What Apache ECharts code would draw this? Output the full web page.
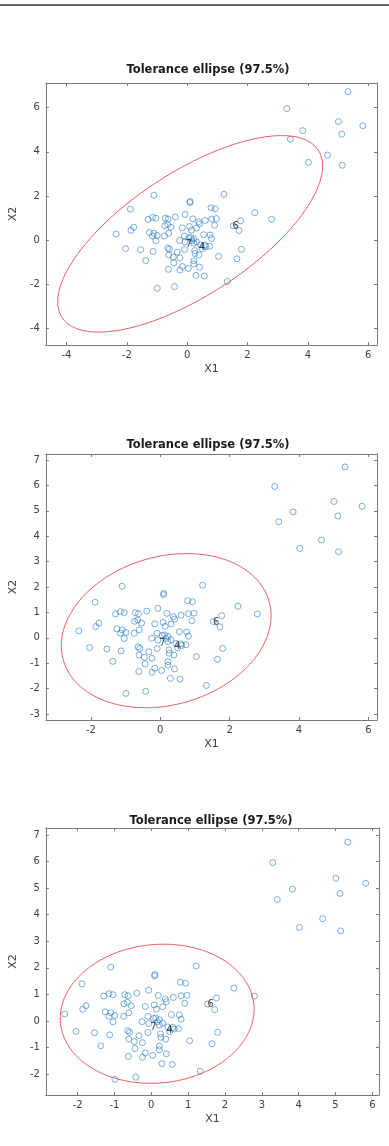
<!DOCTYPE html>
<html>
<head>
<meta charset="utf-8">
<script src="https://cdn.jsdelivr.net/npm/echarts@6/dist/echarts.min.js"></script>
<style>
  html, body { margin: 0; padding: 0; background: #fff; }
  #chart { width: 389px; height: 1146px; }
</style>
</head>
<body>
<div id="chart"></div>
<script>
// observations (X1, X2), same data in all three panels
const x1Values = [
  -2.35, -2.04, -1.88, -1.86, -1.77, -1.54, -1.37, -1.29, -1.25, -1.15,
  -1.13, -1.10, -1.15, -1.10, -1.04, -1.04, -0.99, -0.99, -0.75, -0.72,
  -0.74, -0.65, -0.63, -0.61, -0.64, -0.59, -0.61, -0.62, -0.54, -0.44,
  -0.39, -0.42, -0.46, -0.33, -0.25, -0.24, -0.24, -0.16, -0.16, -0.09,
  -0.07, -0.09, 0.04, 0.08, 0.10, 0.09, 0.06, -0.07, 0.14, 0.16,
  0.19, 0.22, 0.22, 0.22, 0.25, 0.26, 0.29, 0.31, 0.31, 0.22,
  0.38, 0.41, 0.41, 0.39, 0.45, 0.59, 0.55, 0.57, 0.60, 0.74,
  0.76, 0.79, 0.81, 0.81, 0.91, 0.93, 0.97, 1.04, 1.22, 1.53,
  1.65, 1.72, 1.77, 1.80, 1.33, 2.24, 2.80, 0.12, 0.62, 0.50,
  5.33, 3.30, 5.01, 5.82, 3.83, 5.12, 3.42, 4.65, 4.02, 5.14
];
const x2Values = [
  0.27, -0.39, 1.40, 0.44, 0.58, -0.44, -0.93, 0.94, 0.35, 1.03,
  -0.52, 2.03, 0.18, 0.31, 0.99, -0.03, 0.21, -2.19, 0.18, 0.99,
  0.65, 0.70, 0.95, 0.31, -0.36, -0.42, -0.68, -1.33, 0.58, -1.03,
  1.05, -2.11, -0.77, -0.55, -0.02, -0.81, -1.36, 0.55, -1.20, -0.43,
  1.16, 0.18, -1.29, 0.61, 1.75, 1.70, 0.10, -0.09, 0.45, -0.03,
  0.96, 0.05, -1.08, -0.94, -0.48, -0.61, -1.60, 0.54, -0.08, -0.15,
  0.83, 0.73, -1.23, -0.68, -0.22, -0.24, 0.24, -1.63, 0.89, -0.28,
  0.23, 1.46, 0.95, 0.07, 0.67, 1.42, 0.97, -0.74, 2.07, 0.64,
  -0.85, 0.43, 0.87, -0.42, -1.88, 1.24, 0.94, 0.11, -0.30, -0.40,
  6.73, 5.96, 5.37, 5.18, 4.96, 4.80, 4.57, 3.85, 3.52, 3.39
];

// labelled observations
const labelNames = ['7', '4', '6'];
const labelX1 = [0.06, 0.49, 1.61];
const labelX2 = [-0.22, -0.35, 0.62];

// tolerance ellipses: centre and covariance (s11, s12, s22) per panel
const chi2Quantile = 7.3778; // chi2(2) at 97.5%
const ellipseCenters = [[0.10, 0.28], [0.17, 0.28], [0.16, 0.275]];
const ellipseCov = [[2.61, 1.83, 2.69], [1.24, 0.244, 1.25], [0.938, 0.061, 0.927]];

// axis limits and ticks per panel
const xLimits = [[-4.68, 6.29], [-3.30, 6.25], [-2.86, 6.18]];
const yLimits = [[-4.76, 7.12], [-3.24, 7.24], [-2.78, 7.26]];
const xTicks = [[-4, -2, 0, 2, 4, 6], [-2, 0, 2, 4, 6], [-2, -1, 0, 1, 2, 3, 4, 5, 6]];
const yTicks = [[-4, -2, 0, 2, 4, 6], [-3, -2, -1, 0, 1, 2, 3, 4, 5, 6, 7], [-2, -1, 0, 1, 2, 3, 4, 5, 6, 7]];

const titleText = 'Tolerance ellipse (97.5%)';

const FONT = 'DejaVu Sans, sans-serif';
const AXIS_COLOR = '#7a7a7a';
const TEXT_COLOR = '#404040';

// panel boxes in pixels
const panels = [
  { left: 40, right: 12, top: 83, height: 262, titleTop: 64, titleX: 208 },
  { left: 40, right: 12, top: 454, height: 266, titleTop: 439, titleX: 208 },
  { left: 44, right: 10, top: 828, height: 267, titleTop: 815, titleX: 211 }
];

const points = x1Values.map((v, i) => [v, x2Values[i]]);
const labelPoints = labelNames.map((n, i) => ({ name: n, value: [labelX1[i], labelX2[i]] }));

const chart = echarts.init(document.getElementById('chart'), null, { renderer: 'canvas' });

const grid = [], xAxis = [], yAxis = [], title = [], series = [];

function axisBase(limits, ticks, showLabels) {
  return {
    type: 'value',
    min: limits[0],
    max: limits[1],
    axisLine: { show: true, onZero: false, lineStyle: { color: AXIS_COLOR, width: 1 } },
    axisTick: { show: true, inside: true, length: 3, customValues: ticks, lineStyle: { color: AXIS_COLOR } },
    axisLabel: {
      show: showLabels,
      customValues: ticks,
      color: TEXT_COLOR,
      fontFamily: FONT,
      fontSize: 10
    },
    splitLine: { show: false }
  };
}

panels.forEach((p, i) => {
  grid.push({ left: p.left, right: p.right, top: p.top, height: p.height, containLabel: false });

  title.push({
    text: titleText,
    left: p.titleX,
    top: p.titleTop,
    padding: 0,
    textAlign: 'center',
    textStyle: { fontFamily: FONT, fontSize: 11.5, fontWeight: 'bold', color: '#1a1a1a' }
  });

  xAxis.push(Object.assign(axisBase(xLimits[i], xTicks[i], true), {
    gridIndex: i, position: 'bottom',
    name: 'X1', nameLocation: 'middle', nameGap: 19,
    nameTextStyle: { fontFamily: FONT, fontSize: 11, color: TEXT_COLOR }
  }));
  xAxis[xAxis.length - 1].axisLabel.margin = 5;
  xAxis.push(Object.assign(axisBase(xLimits[i], xTicks[i], false), { gridIndex: i, position: 'top' }));

  yAxis.push(Object.assign(axisBase(yLimits[i], yTicks[i], true), {
    gridIndex: i, position: 'left',
    name: 'X2', nameLocation: 'middle', nameGap: 19,
    nameTextStyle: { fontFamily: FONT, fontSize: 11, color: TEXT_COLOR }
  }));
  yAxis[yAxis.length - 1].axisLabel.margin = 6;
  yAxis.push(Object.assign(axisBase(yLimits[i], yTicks[i], false), { gridIndex: i, position: 'right' }));

  series.push({
    type: 'scatter',
    xAxisIndex: 2 * i,
    yAxisIndex: 2 * i,
    data: points,
    symbol: 'circle',
    symbolSize: 6,
    itemStyle: { color: 'rgba(0,0,0,0)', borderColor: '#2f80c8', borderWidth: 0.8 },
    silent: true,
    z: 3
  });

  series.push({
    type: 'scatter',
    xAxisIndex: 2 * i,
    yAxisIndex: 2 * i,
    data: labelPoints,
    symbol: 'circle',
    symbolSize: 1,
    itemStyle: { color: 'rgba(0,0,0,0)' },
    label: {
      show: true,
      position: 'inside',
      formatter: '{b}',
      color: '#222',
      fontFamily: FONT,
      fontSize: 10
    },
    silent: true,
    z: 5
  });

  const s = ellipseCov[i];
  series.push({
    type: 'custom',
    xAxisIndex: 2 * i,
    yAxisIndex: 2 * i,
    data: [ellipseCenters[i]],
    silent: true,
    z: 4,
    renderItem: function (params, api) {
      // cholesky factor of the scaled covariance
      const l11 = Math.sqrt(chi2Quantile * s[0]);
      const l21 = chi2Quantile * s[1] / l11;
      const l22 = Math.sqrt(chi2Quantile * s[2] - l21 * l21);
      const cx = api.value(0), cy = api.value(1);
      const pts = [];
      for (let k = 0; k <= 240; k++) {
        const t = (k / 240) * Math.PI * 2;
        const u = Math.cos(t), v = Math.sin(t);
        pts.push(api.coord([cx + l11 * u, cy + l21 * u + l22 * v]));
      }
      return {
        type: 'polyline',
        shape: { points: pts },
        style: { stroke: '#f05a5a', fill: 'none', lineWidth: 1 }
      };
    }
  });
});

chart.setOption({
  animation: false,
  backgroundColor: '#fff',
  title: title,
  grid: grid,
  xAxis: xAxis,
  yAxis: yAxis,
  series: series,
  graphic: [{
    type: 'line',
    shape: { x1: 0, y1: 5, x2: 389, y2: 5 },
    style: { stroke: '#333', lineWidth: 1.5 }
  }]
});
</script>
</body>
</html>
